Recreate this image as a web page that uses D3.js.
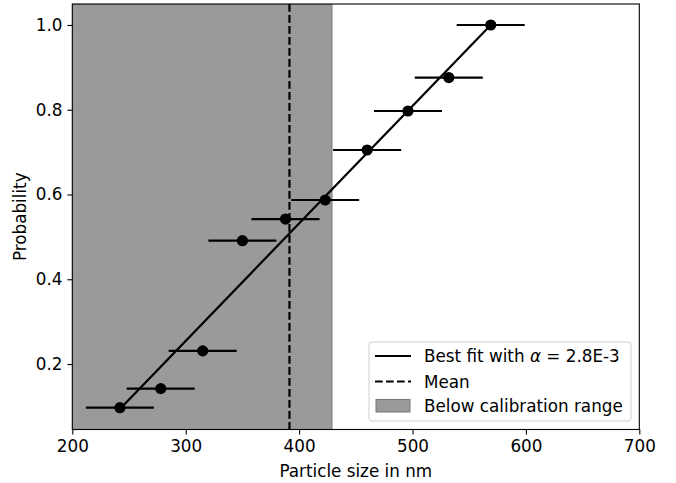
<!DOCTYPE html>
<html>
<head>
<meta charset="utf-8">
<script src="https://cdn.jsdelivr.net/npm/d3@7"></script>
<style>
  body { margin: 0; background: #fff; }
  svg { font-family: "DejaVu Sans", sans-serif; }
  .tick line { stroke: #000; stroke-width: 1.1; }
  .domain { display: none; }
</style>
</head>
<body>
<div id="chart"></div>
<script>
// measured particle sizes (nm) and cumulative probability
var sizes = [242, 278, 315, 350, 388, 423, 460, 496, 532, 569];
var probs = [0.097, 0.142, 0.231, 0.491, 0.542, 0.587, 0.705, 0.797, 0.876, 1.0];
var sizeErr = [30, 30, 30, 30, 30, 30, 30, 30, 30, 30];
// best fit line end points
var fitX = [242, 569];
var fitY = [0.094, 1.0];
var meanSize = 391.5;
var belowRange = [200, 429];
var xTicks = [200, 300, 400, 500, 600, 700];
var yTicks = [0.2, 0.4, 0.6, 0.8, 1.0];

var width = 676, height = 483;
var fontSize = '16.8px';
var margin = { top: 4, right: 36.7, bottom: 53.5, left: 72.3 };
var chartWidth = width - margin.left - margin.right,
    chartHeight = height - margin.top - margin.bottom;

var x = d3.scaleLinear().domain([200, 700]).range([0, chartWidth]);
var y = d3.scaleLinear().domain([0.0455, 1.0495]).range([chartHeight, 0]);

var svg = d3.select('#chart').append('svg')
    .attr('width', width)
    .attr('height', height);
var g = svg.append('g')
    .attr('transform', 'translate(' + margin.left + ',' + margin.top + ')');

g.append('clipPath')
    .attr('id', 'plot-clip')
    .append('rect')
    .attr('width', chartWidth)
    .attr('height', chartHeight);

var plot = g.append('g').attr('clip-path', 'url(#plot-clip)');

// shaded region below calibration range
plot.append('rect')
    .attr('x', x(belowRange[0]))
    .attr('y', 0)
    .attr('width', x(belowRange[1]) - x(belowRange[0]))
    .attr('height', chartHeight)
    .attr('fill', '#9a9a9a')
    .attr('stroke', '#777')
    .attr('stroke-width', 1);

// mean line
plot.append('line')
    .attr('x1', x(meanSize)).attr('x2', x(meanSize))
    .attr('y1', 0).attr('y2', chartHeight)
    .attr('stroke', '#000')
    .attr('stroke-width', 2.2)
    .attr('stroke-dasharray', '7.7,3.3');

// fit line
var fitLine = d3.line()
    .x(function (d) { return x(d[0]); })
    .y(function (d) { return y(d[1]); });
plot.append('path')
    .datum(d3.zip(fitX, fitY))
    .attr('d', fitLine)
    .attr('fill', 'none')
    .attr('stroke', '#000')
    .attr('stroke-width', 2.2);

// error bars and points
var pts = sizes.map(function (s, i) {
    return { x: s, y: probs[i], err: sizeErr[i] };
});
plot.selectAll('.err')
    .data(pts)
    .enter().append('line')
    .attr('class', 'err')
    .attr('x1', function (d) { return x(d.x - d.err); })
    .attr('x2', function (d) { return x(d.x + d.err); })
    .attr('y1', function (d) { return y(d.y); })
    .attr('y2', function (d) { return y(d.y); })
    .attr('stroke', '#000')
    .attr('stroke-width', 2.2);
plot.selectAll('.dot')
    .data(pts)
    .enter().append('circle')
    .attr('class', 'dot')
    .attr('cx', function (d) { return x(d.x); })
    .attr('cy', function (d) { return y(d.y); })
    .attr('r', 5.6)
    .attr('fill', '#000');

// axes
var xAxis = d3.axisBottom(x).tickValues(xTicks).tickFormat(d3.format('d'))
    .tickSizeInner(4.9).tickSizeOuter(0).tickPadding(4.9);
var yAxis = d3.axisLeft(y).tickValues(yTicks).tickFormat(d3.format('.1f'))
    .tickSizeInner(4.9).tickSizeOuter(0).tickPadding(4.9);
var gx = g.append('g')
    .attr('transform', 'translate(0,' + chartHeight + ')')
    .call(xAxis);
gx.selectAll('text').attr('dy', '0.76em');
var gy = g.append('g')
    .call(yAxis);
[gx, gy].forEach(function (a) {
    a.attr('font-family', null).attr('font-size', null);
    a.selectAll('text').attr('fill', '#000').style('font-size', fontSize);
});

// frame
g.append('rect')
    .attr('width', chartWidth)
    .attr('height', chartHeight)
    .attr('fill', 'none')
    .attr('stroke', '#000')
    .attr('stroke-width', 1.1);

// axis labels
svg.append('text')
    .attr('x', margin.left + chartWidth / 2)
    .attr('y', 477)
    .attr('text-anchor', 'middle')
    .style('font-size', fontSize)
    .text('Particle size in nm');
svg.append('text')
    .attr('transform', 'translate(25.5,' + (margin.top + chartHeight / 2) + ') rotate(-90)')
    .attr('text-anchor', 'middle')
    .style('font-size', fontSize)
    .text('Probability');

// legend
var legend = svg.append('g').attr('transform', 'translate(369,342)');
legend.append('rect')
    .attr('width', 262)
    .attr('height', 79)
    .attr('rx', 3)
    .attr('fill', '#fff')
    .attr('fill-opacity', 0.8)
    .attr('stroke', '#d0d0d0')
    .attr('stroke-width', 1);
legend.append('line')
    .attr('x1', 6).attr('x2', 42).attr('y1', 14).attr('y2', 14)
    .attr('stroke', '#000').attr('stroke-width', 2.2);
legend.append('line')
    .attr('x1', 6).attr('x2', 42).attr('y1', 39.5).attr('y2', 39.5)
    .attr('stroke', '#000').attr('stroke-width', 2.2)
    .attr('stroke-dasharray', '7.7,3.3');
legend.append('rect')
    .attr('x', 7).attr('y', 57.5).attr('width', 34).attr('height', 12.5)
    .attr('fill', '#9a9a9a').attr('stroke', '#777').attr('stroke-width', 1);
var t1 = legend.append('text')
    .attr('x', 55).attr('y', 20)
    .style('font-size', fontSize);
t1.append('tspan').text('Best fit with ');
t1.append('tspan').style('font-style', 'italic').text('α');
t1.append('tspan').text(' = 2.8E-3');
legend.append('text')
    .attr('x', 55).attr('y', 45.5)
    .style('font-size', fontSize)
    .text('Mean');
legend.append('text')
    .attr('x', 55).attr('y', 70)
    .style('font-size', fontSize)
    .text('Below calibration range');
</script>
</body>
</html>
